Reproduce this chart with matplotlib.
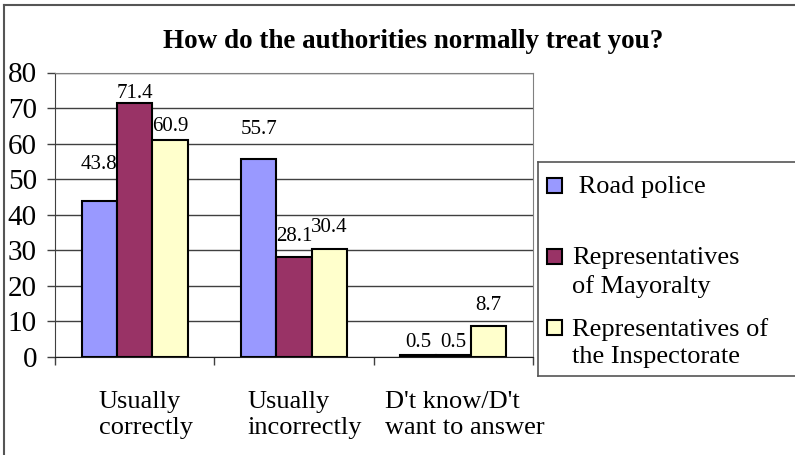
import numpy as np
import matplotlib
matplotlib.use("Agg")
import matplotlib.pyplot as plt
from matplotlib.patches import Rectangle
from matplotlib.lines import Line2D

plt.rcParams['font.family'] = ['Liberation Serif', 'DejaVu Serif']

# data
categories = ["Usually\ncorrectly", "Usually\nincorrectly", "D't know/D't\nwant to answer"]
series_names = [" Road police", "Representatives\nof Mayoralty", "Representatives of\nthe Inspectorate"]
road_police = [43.8, 55.7, 0.5]
mayoralty = [71.4, 28.1, 0.5]
inspectorate = [60.9, 30.4, 8.7]
values = [road_police, mayoralty, inspectorate]
colors = ["#9999FF", "#993366", "#FFFFCC"]
# gap between bar top and label baseline, in pixels (Excel moved some labels)
label_pad = [[32, 25, 8], [5, 16, 8], [9, 17, 16]]

W, H = 795, 455
px = 0.72  # points per pixel at dpi 100
fig = plt.figure(figsize=(W / 100, H / 100), dpi=100)

# outer chart border (only top and left visible)
fig.add_artist(Line2D([4 / W, 4 / W], [0, 1 - 5 / H], color="#555555", lw=1.5))
fig.add_artist(Line2D([4 / W, 1], [1 - 5 / H, 1 - 5 / H], color="#555555", lw=1.5))

ax = fig.add_axes([55 / W, 1 - 357 / H, 478 / W, 284.5 / H])

n = len(categories)
bw = 1 / 4.5
x = np.arange(n)
for i, (vals, c) in enumerate(zip(values, colors)):
    xs = x + 0.5 - 1.5 * bw + (i + 0.5) * bw
    ax.bar(xs, vals, width=bw, color=c, edgecolor="black", linewidth=1.5, zorder=3)
    for j, v in enumerate(vals):
        ax.annotate(f"{v}", (xs[j], v), xytext=(0, label_pad[i][j] * px),
                    textcoords="offset points", ha="center", va="baseline", fontsize=15)

ax.set_xlim(0, n)
ax.set_ylim(0, 80)
ax.set_yticks(range(0, 81, 10))
ax.yaxis.grid(True, color="#404040", lw=1, zorder=0)
ax.set_xticks(range(n + 1))
ax.set_xticklabels([])
ax.tick_params(axis="y", length=6, width=1, color="#404040", pad=7, labelsize=21)
ax.tick_params(axis="x", length=6, width=1, color="#404040")
for s in ["top", "right"]:
    ax.spines[s].set_color("#808080")
ax.spines["left"].set_color("#404040")
ax.spines["bottom"].set_color("#202020")

for j, cat in enumerate(categories):
    ax.annotate(cat, (j + 0.5, 0), xytext=(11 * px, -34 * px), textcoords="offset points",
                ha="center", va="top", multialignment="left", fontsize=19,
                linespacing=1.24, annotation_clip=False)

fig.text(413 / W, 1 - 42 / H, "How do the authorities normally treat you?",
         ha="center", va="center", fontsize=19.5, fontweight="bold")

# legend box
fig.add_artist(Line2D([538 / W, 1], [1 - 162 / H] * 2, color="#555555", lw=1.2))
fig.add_artist(Line2D([538 / W, 1], [1 - 376 / H] * 2, color="#555555", lw=1.2))
fig.add_artist(Line2D([538 / W] * 2, [1 - 162 / H, 1 - 376 / H], color="#555555", lw=1.2))
leg_y = [185, 256, 327]
for name, c, yy in zip(series_names, colors, leg_y):
    fig.add_artist(Rectangle((547 / W, 1 - (yy + 8) / H), 15 / W, 15 / H,
                             facecolor=c, edgecolor="black", lw=1.5))
    fig.text(572 / W, 1 - (yy - 9) / H, name, ha="left", va="top",
             fontsize=19, linespacing=1.32)

fig.savefig("out.png", dpi=100)
